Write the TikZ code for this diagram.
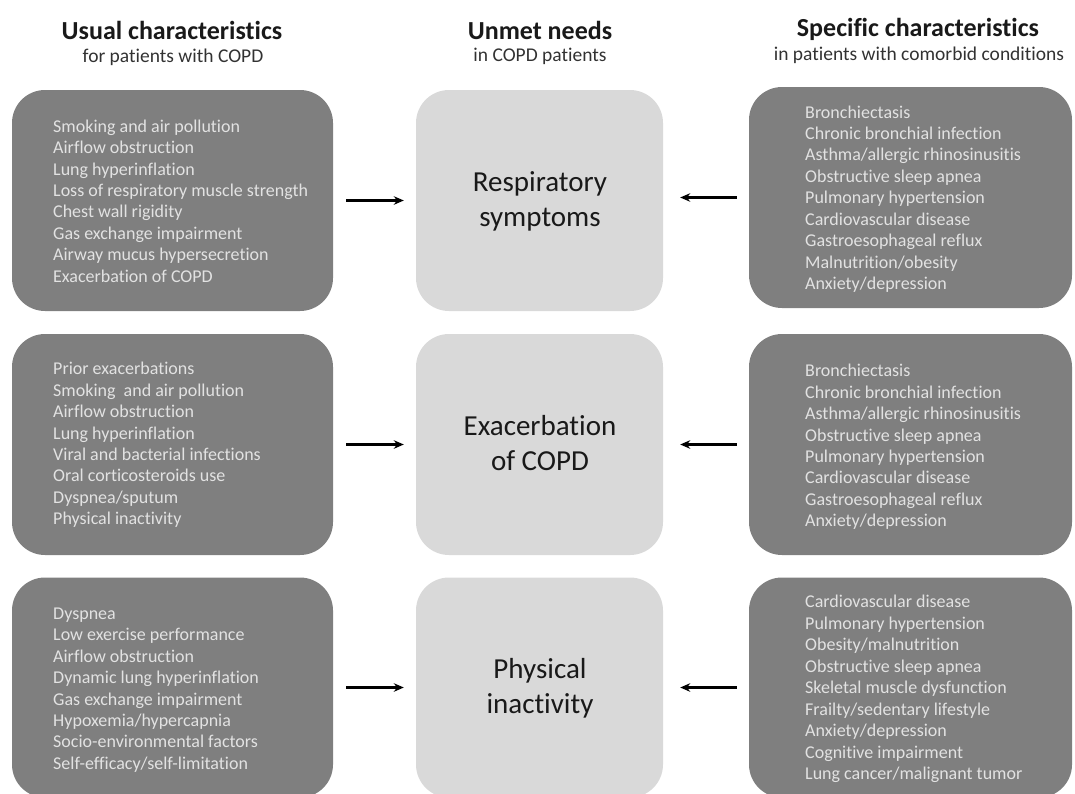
\documentclass[tikz,border=0pt]{standalone}
\usepackage{fontspec}
\setmainfont{Carlito}[Ligatures=NoCommon]
\usetikzlibrary{arrows.meta}
\definecolor{darkfill}{RGB}{127,127,127}
\definecolor{lightfill}{RGB}{217,217,217}
\definecolor{boxtext}{RGB}{226,226,226}
\definecolor{headtext}{RGB}{25,25,25}
\definecolor{subtext}{RGB}{50,50,50}
\begin{document}
\begin{tikzpicture}[x=1pt,y=-1pt,
  darkbox/.style={rectangle, rounded corners=33pt, fill=darkfill, draw=none, inner sep=0pt},
  lightbox/.style={rectangle, rounded corners=33pt, fill=lightfill, draw=none, inner sep=0pt},
  listtext/.style={anchor=west, align=left, inner sep=0pt, text=boxtext, font=\fontsize{18}{21.45}\selectfont},
  midtext/.style={align=center, inner sep=0pt, text=headtext, font=\fontsize{29}{35}\selectfont},
  headbold/.style={inner sep=0pt, text=headtext, font=\bfseries\fontsize{26}{30}\selectfont},
  headsub/.style={inner sep=0pt, text=subtext, font=\fontsize{19.5}{23}\selectfont},
  arr/.style={-{Stealth[length=10pt,width=8.5pt]}, line width=2.6pt, black}
]
\useasboundingbox (0,0) rectangle (1075,793);

% headers
\node[headbold] (h1) at (172,30) {Usual characteristics};
\node[headsub] (s1) at (173,57) {for patients with COPD};
\node[headbold] (h2) at (540,30) {Unmet needs};
\node[headsub] (s2) at (540,56) {in COPD patients};
\node[headbold] (h3) at (918,29) {Specific characteristics};
\node[headsub] (s3) at (919,55) {in patients with comorbid conditions};

% boxes
\node[darkbox, minimum width=321pt, minimum height=221pt] (L1) at (172.5,200.5) {};
\node[darkbox, minimum width=321pt, minimum height=221pt] (L2) at (172.5,444.5) {};
\node[darkbox, minimum width=321pt, minimum height=220pt] (L3) at (172.5,687.5) {};
\node[lightbox, minimum width=247pt, minimum height=221pt] (M1) at (539.5,200.5) {};
\node[lightbox, minimum width=247pt, minimum height=221pt] (M2) at (539.5,444.5) {};
\node[lightbox, minimum width=247pt, minimum height=220pt] (M3) at (539.5,687.5) {};
\node[darkbox, minimum width=323pt, minimum height=221pt] (R1) at (910.5,197.5) {};
\node[darkbox, minimum width=323pt, minimum height=221pt] (R2) at (910.5,444.5) {};
\node[darkbox, minimum width=323pt, minimum height=220pt] (R3) at (910.5,687.5) {};

% texts
\node[listtext] (L1t) at (53,201) {Smoking and air pollution\\Airflow obstruction\\Lung hyperinflation\\Loss of respiratory muscle strength\\Chest wall rigidity\\Gas exchange impairment\\Airway mucus hypersecretion\\Exacerbation of COPD};
\node[listtext] (L2t) at (53,445) {Prior exacerbations\\Smoking\ \ and air pollution\\Airflow obstruction\\Lung hyperinflation\\Viral and bacterial infections\\Oral corticosteroids use\\Dyspnea/sputum\\Physical inactivity};
\node[listtext] (L3t) at (53,690) {Dyspnea\\Low exercise performance\\Airflow obstruction\\Dynamic lung hyperinflation\\Gas exchange impairment\\Hypoxemia/hypercapnia\\Socio-environmental factors\\Self-efficacy/self-limitation};

\node[listtext] (R1t) at (805,199) {Bronchiectasis\\Chronic bronchial infection\\Asthma/allergic rhinosinusitis\\Obstructive sleep apnea\\Pulmonary hypertension\\Cardiovascular disease\\Gastroesophageal reflux\\Malnutrition/obesity\\Anxiety/depression};
\node[listtext] (R2t) at (805,447) {Bronchiectasis\\Chronic bronchial infection\\Asthma/allergic rhinosinusitis\\Obstructive sleep apnea\\Pulmonary hypertension\\Cardiovascular disease\\Gastroesophageal reflux\\Anxiety/depression};
\node[listtext] (R3t) at (805,689) {Cardiovascular disease\\Pulmonary hypertension\\Obesity/malnutrition\\Obstructive sleep apnea\\Skeletal muscle dysfunction\\Frailty/sedentary lifestyle\\Anxiety/depression\\Cognitive impairment\\Lung cancer/malignant tumor};

\node[midtext] (M1t) at (540,201) {Respiratory\\symptoms};
\node[midtext] (M2t) at (540,443) {Exacerbation\\of COPD};
\node[midtext] (M3t) at (540,688) {Physical\\inactivity};

% arrows
\draw[arr] ([xshift=13pt]L1.east) -- ([xshift=-12pt]M1.west);
\draw[arr] ([xshift=13pt]L2.east) -- ([xshift=-12pt]M2.west);
\draw[arr] ([xshift=13pt]L3.east) -- ([xshift=-12pt]M3.west);
\draw[arr] ([xshift=-12pt]R1.west) -- ([xshift=17pt]M1.east |- R1.west);
\draw[arr] ([xshift=-12pt]R2.west) -- ([xshift=17pt]M2.east);
\draw[arr] ([xshift=-12pt]R3.west) -- ([xshift=17pt]M3.east);
\end{tikzpicture}
\end{document}
